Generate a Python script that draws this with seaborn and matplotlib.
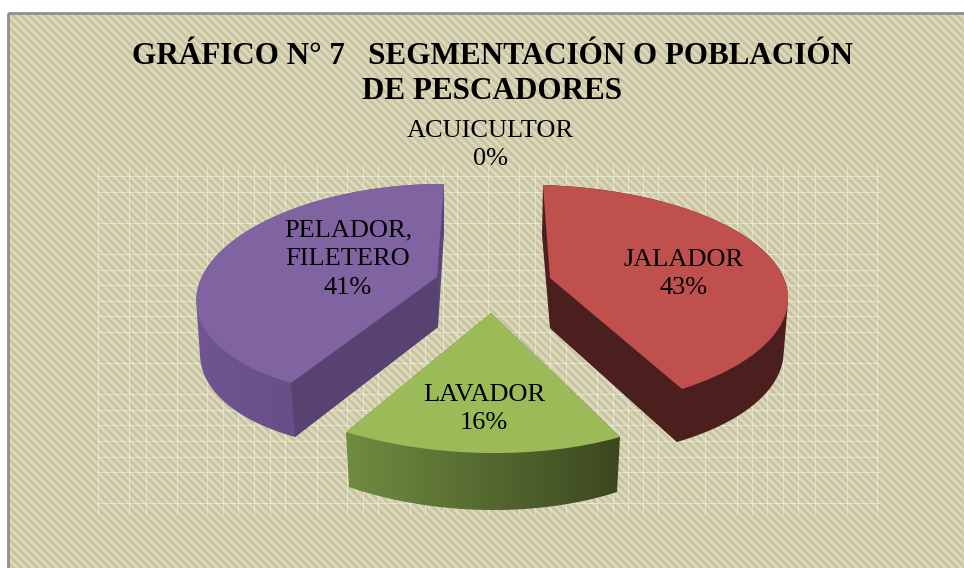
import numpy as np
import matplotlib
matplotlib.use("Agg")
import matplotlib.pyplot as plt
import seaborn as sns
from matplotlib.colors import LinearSegmentedColormap
from matplotlib.patches import Polygon, Rectangle
from matplotlib.transforms import Transform

# ---- data ----
categories = ["ACUICULTOR", "JALADOR", "LAVADOR", "PELADOR,\nFILETERO"]
shares = [0, 43, 16, 41]
title_lines = ["GRÁFICO N° 7   SEGMENTACIÓN O POBLACIÓN", "DE PESCADORES"]
grid_x = [98, 129, 146, 177, 207, 223, 238, 254, 270, 285, 317, 347, 363, 378, 410, 425,
          443, 457, 488, 519, 535, 550, 566, 597, 613, 628, 643, 658, 705, 737, 752, 767,
          783, 798, 815, 847, 877]
grid_y = [176, 192, 223, 254, 270, 285, 301, 316, 332, 363, 394, 410, 425, 441, 457, 472, 503]

# ---- styling ----
W, H = 964, 568
sns.set_theme(style="white")
plt.rcParams["font.family"] = ["Liberation Serif", "DejaVu Serif"]
top_colors = sns.color_palette(["#9a9a9a", "#c0504d", "#9bbb59", "#8064a2"])

# Perspective of each exploded slice: picture positions of apex, arc start, arc mid, arc end
# for the top face and the bottom face.
views = {
    1: dict(top=[(550, 278), (543, 185), (769, 256), (682, 389)],
            bot=[(550, 328), (542, 235), (764, 307), (677, 442)],
            side=("#4c1f1f", "#4c1f1f"), wall="#4c1f1f"),
    2: dict(top=[(491, 313), (620, 437), (487, 453), (346, 432)],
            bot=[(491, 363), (617, 492), (487, 510), (349, 487)],
            side=("#708c40", "#3c4820"), wall=None),
    3: dict(top=[(437, 277), (291, 383), (220, 252), (444, 184)],
            bot=[(438, 327), (295, 437), (224, 304), (444, 234)],
            side=("#6f5592", "#5c4577"), wall="#584272"),
}
label_pos = {0: (490, 145), 1: (684, 274), 2: (484, 409), 3: (348, 259)}


def solve_h(src, dst):
    a, b = [], []
    for (x, y), (u, v) in zip(src, dst):
        a.append([x, y, 1, 0, 0, 0, -u * x, -u * y]); b.append(u)
        a.append([0, 0, 0, x, y, 1, -v * x, -v * y]); b.append(v)
    s = np.linalg.solve(np.array(a, float), np.array(b, float))
    return np.append(s, 1).reshape(3, 3)


class Homography(Transform):
    input_dims = output_dims = 2
    is_separable = False
    has_inverse = False

    def __init__(self, m):
        super().__init__()
        self.m = m

    def transform_non_affine(self, values):
        p = np.column_stack([values, np.ones(len(values))]) @ self.m.T
        return p[:, :2] / p[:, 2:3]


def hull(points):
    pts = sorted(set(map(tuple, np.round(points, 3))))
    def half(seq):
        out = []
        for p in seq:
            while len(out) > 1 and ((out[-1][0] - out[-2][0]) * (p[1] - out[-2][1])
                                    - (out[-1][1] - out[-2][1]) * (p[0] - out[-2][0])) <= 0:
                out.pop()
            out.append(p)
        return out[:-1]
    return np.array(half(pts) + half(pts[::-1]))


fig = plt.figure(figsize=(W / 100, H / 100), dpi=100, facecolor="white")
ax = fig.add_axes([0, 0, 1, 1])
wedges, _ = ax.pie(shares, startangle=90, counterclock=False, colors=top_colors)
ax.set_aspect("auto")
ax.set_axis_off()

# background
yy, xx = np.mgrid[13:H, 8:W]
stripes = ((xx - yy) % 8) < 4
bg = np.zeros(stripes.shape + (3,))
bg[stripes] = matplotlib.colors.to_rgb("#dcd8bd")
bg[~stripes] = matplotlib.colors.to_rgb("#c9c4a0")
ax.imshow(bg, extent=(8, W, H, 13), aspect="auto", interpolation="nearest", zorder=0)
ax.add_patch(Rectangle((8, 13), W, H, fill=False, ec="#8f8f8f", lw=2, zorder=1))

# plot-area grid
ax.vlines(grid_x, 165, 515, color="#f4f2e6", lw=0.7, alpha=0.6, zorder=1)
ax.hlines(grid_y, 98, 880, color="#f4f2e6", lw=0.7, alpha=0.6, zorder=1)

# slices
for i, w in enumerate(wedges):
    if shares[i] == 0:
        w.set_visible(False)
        continue
    t1, t2 = np.radians(w.theta1), np.radians(w.theta2)
    mid = (t1 + t2) / 2
    src = [(0, 0), (np.cos(t2), np.sin(t2)), (np.cos(mid), np.sin(mid)), (np.cos(t1), np.sin(t1))]
    v = views[i]
    H_top = Homography(solve_h(src, v["top"]))
    H_bot = Homography(solve_h(src, v["bot"]))
    th = np.linspace(t1, t2, 80)
    sector = np.vstack([[(0, 0)], np.column_stack([np.cos(th), np.sin(th)])])
    poly_top = H_top.transform_non_affine(sector)
    poly_bot = H_bot.transform_non_affine(sector)
    shell = hull(np.vstack([poly_top, poly_bot]))
    x0, x1 = shell[:, 0].min(), shell[:, 0].max()
    y0, y1 = shell[:, 1].min(), shell[:, 1].max()
    cmap = LinearSegmentedColormap.from_list("side", v["side"])
    im = ax.imshow(np.linspace(0, 1, 128)[None, :], extent=(x0, x1, y1, y0), aspect="auto",
                   cmap=cmap, zorder=3)
    im.set_clip_path(Polygon(shell, closed=True, transform=ax.transData))
    if v["wall"]:
        a, e = v["top"][0], v["top"][3] if i == 1 else v["top"][1]
        a2, e2 = v["bot"][0], v["bot"][3] if i == 1 else v["bot"][1]
        ax.add_patch(Polygon([a, e, e2, a2], closed=True, fc=v["wall"], ec="none", zorder=4))
    w.set_transform(H_top + ax.transData)
    w.set_clip_on(False)
    w.set_edgecolor("none")
    w.set_zorder(5)

ax.set_xlim(0, W)
ax.set_ylim(H, 0)

# title
ax.text(492, 64, title_lines[0], ha="center", va="baseline", fontsize=22.4, fontweight="bold",
        color="black", zorder=10)
ax.text(492, 99, title_lines[1], ha="center", va="baseline", fontsize=22.4, fontweight="bold",
        color="black", zorder=10)

# data labels
for i, (name, val) in enumerate(zip(categories, shares)):
    x, y = label_pos[i]
    ax.text(x, y, f"{name}\n{val}%", ha="center", va="center", fontsize=19, color="black",
            linespacing=1.4, zorder=10)

fig.savefig("out.png", dpi=100, facecolor="white")
